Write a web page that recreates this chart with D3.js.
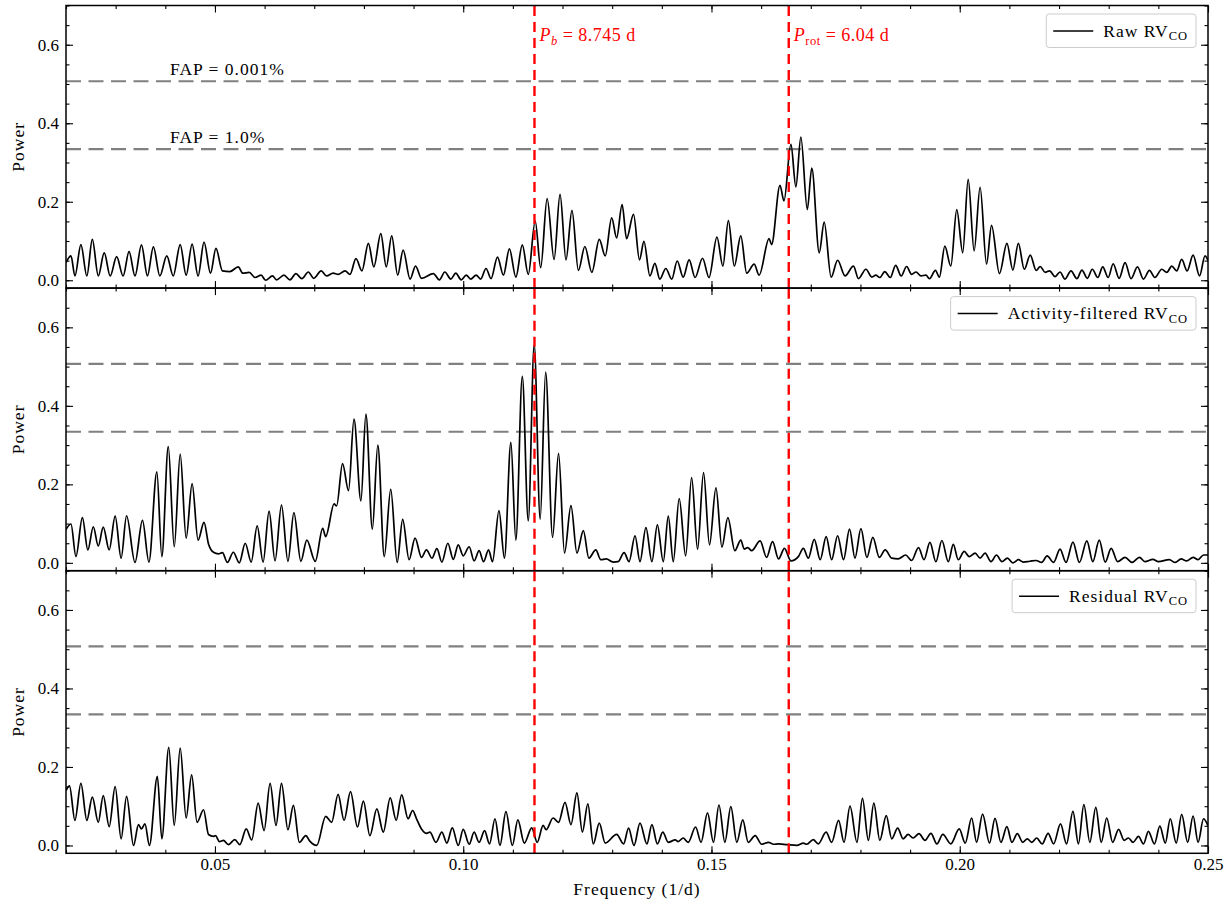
<!DOCTYPE html>
<html>
<head>
<meta charset="utf-8">
<script src="https://cdn.jsdelivr.net/npm/d3@7"></script>
<style>
  body { margin: 0; background: #fff; }
  text { font-family: "Liberation Serif", "DejaVu Serif", serif; }
</style>
</head>
<body>
<svg id="chart" width="1231" height="906"></svg>
<script>
// Generalised Lomb-Scargle periodograms: [frequency (1/d), power]
const rawSeries = [
  [0.0200,0.045],[0.0210,0.062],[0.0218,0.011],[0.0230,0.091],[0.0242,0.011],[0.0253,0.104],
  [0.0265,0.011],[0.0277,0.070],[0.0289,0.011],[0.0302,0.060],[0.0315,0.011],[0.0327,0.073],
  [0.0339,0.011],[0.0352,0.090],[0.0364,0.011],[0.0376,0.085],[0.0389,0.011],[0.0403,0.062],
  [0.0416,0.011],[0.0430,0.091],[0.0442,0.013],[0.0454,0.092],[0.0466,0.011],[0.0478,0.097],
  [0.0491,0.018],[0.0502,0.081],[0.0515,0.024],[0.0530,0.022],[0.0547,0.034],[0.0556,0.018],
  [0.0569,0.020],[0.0581,0.007],[0.0593,0.013],[0.0602,0.000],[0.0616,0.011],[0.0624,0.001],
  [0.0639,0.013],[0.0651,0.001],[0.0663,0.017],[0.0675,0.004],[0.0688,0.021],[0.0699,0.005],
  [0.0714,0.024],[0.0725,0.011],[0.0738,0.018],[0.0748,0.015],[0.0762,0.024],[0.0772,0.015],
  [0.0784,0.055],[0.0796,0.024],[0.0809,0.094],[0.0820,0.034],[0.0834,0.119],[0.0845,0.034],
  [0.0856,0.113],[0.0868,0.013],[0.0879,0.077],[0.0893,0.003],[0.0904,0.036],[0.0916,0.005],
  [0.0940,0.017],[0.0952,0.001],[0.0963,0.021],[0.0975,0.003],[0.0985,0.018],[0.0996,0.001],
  [0.1006,0.013],[0.1015,0.003],[0.1026,0.013],[0.1035,0.003],[0.1046,0.030],[0.1056,0.004],
  [0.1069,0.059],[0.1081,0.013],[0.1093,0.080],[0.1106,0.008],[0.1119,0.090],[0.1131,0.015],
  [0.1145,0.151],[0.1156,0.032],[0.1169,0.208],[0.1183,0.053],[0.1195,0.219],[0.1207,0.052],
  [0.1219,0.178],[0.1232,0.025],[0.1245,0.086],[0.1259,0.020],[0.1274,0.104],[0.1286,0.062],
  [0.1299,0.159],[0.1309,0.108],[0.1320,0.193],[0.1329,0.106],[0.1343,0.168],[0.1355,0.052],
  [0.1364,0.099],[0.1376,0.011],[0.1386,0.043],[0.1396,0.003],[0.1408,0.030],[0.1420,0.003],
  [0.1431,0.049],[0.1443,0.008],[0.1455,0.052],[0.1467,0.007],[0.1482,0.056],[0.1495,0.007],
  [0.1511,0.110],[0.1523,0.036],[0.1534,0.152],[0.1546,0.036],[0.1559,0.113],[0.1571,0.018],
  [0.1586,0.041],[0.1596,0.013],[0.1616,0.106],[0.1621,0.091],[0.1638,0.242],[0.1646,0.202],
  [0.1660,0.346],[0.1670,0.238],[0.1680,0.365],[0.1693,0.180],[0.1702,0.286],[0.1717,0.070],
  [0.1727,0.148],[0.1741,0.008],[0.1754,0.051],[0.1769,0.011],[0.1786,0.036],[0.1796,0.004],
  [0.1811,0.028],[0.1823,0.008],[0.1831,0.013],[0.1839,0.007],[0.1849,0.022],[0.1860,0.007],
  [0.1871,0.038],[0.1882,0.011],[0.1893,0.035],[0.1903,0.015],[0.1912,0.021],[0.1922,0.011],
  [0.1932,0.013],[0.1939,0.004],[0.1951,0.025],[0.1959,0.008],[0.1970,0.087],[0.1982,0.036],
  [0.1994,0.180],[0.2006,0.070],[0.2017,0.257],[0.2029,0.075],[0.2041,0.237],[0.2054,0.041],
  [0.2064,0.140],[0.2080,0.017],[0.2095,0.094],[0.2107,0.026],[0.2118,0.094],[0.2130,0.028],
  [0.2142,0.064],[0.2154,0.025],[0.2162,0.035],[0.2172,0.020],[0.2181,0.024],[0.2192,0.009],
  [0.2202,0.021],[0.2212,0.003],[0.2224,0.024],[0.2236,0.004],[0.2246,0.026],[0.2257,0.005],
  [0.2267,0.028],[0.2278,0.007],[0.2288,0.034],[0.2299,0.007],[0.2309,0.042],[0.2321,0.005],
  [0.2333,0.045],[0.2345,0.004],[0.2358,0.034],[0.2370,0.003],[0.2382,0.025],[0.2393,0.007],
  [0.2407,0.028],[0.2417,0.020],[0.2427,0.036],[0.2437,0.024],[0.2447,0.053],[0.2458,0.024],
  [0.2470,0.064],[0.2483,0.011],[0.2494,0.062],[0.2500,0.050]
];

const filteredSeries = [
  [0.0200,0.085],[0.0210,0.099],[0.0220,0.016],[0.0233,0.115],[0.0244,0.033],[0.0255,0.092],
  [0.0265,0.043],[0.0275,0.091],[0.0287,0.033],[0.0299,0.119],[0.0311,0.012],[0.0322,0.120],
  [0.0339,0.001],[0.0354,0.108],[0.0367,0.002],[0.0383,0.232],[0.0393,0.016],[0.0406,0.296],
  [0.0418,0.041],[0.0430,0.277],[0.0442,0.063],[0.0454,0.202],[0.0466,0.058],[0.0478,0.103],
  [0.0487,0.048],[0.0497,0.027],[0.0507,0.023],[0.0515,0.026],[0.0525,0.001],[0.0537,0.027],
  [0.0549,0.000],[0.0561,0.050],[0.0573,0.002],[0.0585,0.094],[0.0597,0.002],[0.0609,0.132],
  [0.0621,0.005],[0.0634,0.147],[0.0647,0.004],[0.0659,0.128],[0.0673,0.004],[0.0685,0.058],
  [0.0702,0.004],[0.0717,0.088],[0.0723,0.067],[0.0740,0.150],[0.0745,0.145],[0.0757,0.253],
  [0.0769,0.184],[0.0780,0.366],[0.0794,0.158],[0.0804,0.379],[0.0817,0.086],[0.0828,0.300],
  [0.0841,0.016],[0.0854,0.187],[0.0867,0.001],[0.0878,0.111],[0.0891,0.008],[0.0903,0.063],
  [0.0916,0.014],[0.0926,0.033],[0.0937,0.012],[0.0947,0.036],[0.0957,0.002],[0.0969,0.050],
  [0.0980,0.009],[0.0990,0.046],[0.1000,0.018],[0.1012,0.041],[0.1022,0.005],[0.1032,0.031],
  [0.1041,0.003],[0.1051,0.033],[0.1059,0.003],[0.1072,0.133],[0.1083,0.012],[0.1096,0.307],
  [0.1106,0.058],[0.1119,0.475],[0.1131,0.107],[0.1143,0.556],[0.1155,0.111],[0.1166,0.486],
  [0.1180,0.065],[0.1192,0.279],[0.1204,0.025],[0.1217,0.146],[0.1229,0.025],[0.1242,0.082],
  [0.1253,0.012],[0.1267,0.033],[0.1277,0.008],[0.1288,0.010],[0.1302,0.002],[0.1312,0.003],
  [0.1324,0.026],[0.1334,0.003],[0.1346,0.069],[0.1356,0.003],[0.1368,0.090],[0.1380,0.003],
  [0.1391,0.097],[0.1403,0.003],[0.1413,0.119],[0.1423,0.003],[0.1435,0.164],[0.1448,0.018],
  [0.1460,0.217],[0.1472,0.035],[0.1484,0.230],[0.1496,0.046],[0.1509,0.191],[0.1521,0.040],
  [0.1533,0.115],[0.1547,0.031],[0.1559,0.058],[0.1566,0.035],[0.1573,0.039],[0.1581,0.031],
  [0.1598,0.056],[0.1611,0.014],[0.1623,0.054],[0.1635,0.010],[0.1647,0.037],[0.1660,0.005],
  [0.1675,0.016],[0.1685,0.037],[0.1695,0.012],[0.1707,0.060],[0.1719,0.008],[0.1731,0.067],
  [0.1742,0.008],[0.1754,0.069],[0.1766,0.008],[0.1778,0.086],[0.1789,0.012],[0.1801,0.087],
  [0.1813,0.014],[0.1825,0.065],[0.1838,0.014],[0.1850,0.033],[0.1863,0.012],[0.1876,0.010],
  [0.1891,0.020],[0.1903,0.006],[0.1917,0.039],[0.1928,0.008],[0.1940,0.052],[0.1952,0.003],
  [0.1964,0.057],[0.1977,0.003],[0.1987,0.047],[0.1997,0.008],[0.2009,0.029],[0.2019,0.016],
  [0.2031,0.025],[0.2041,0.012],[0.2051,0.025],[0.2063,0.003],[0.2074,0.020],[0.2085,0.003],
  [0.2096,0.012],[0.2107,0.000],[0.2118,0.008],[0.2128,0.002],[0.2141,0.004],[0.2154,0.006],
  [0.2165,0.001],[0.2176,0.018],[0.2189,0.001],[0.2202,0.035],[0.2214,0.001],[0.2228,0.053],
  [0.2241,0.001],[0.2256,0.056],[0.2268,0.003],[0.2281,0.058],[0.2293,0.002],[0.2305,0.037],
  [0.2318,0.003],[0.2333,0.014],[0.2347,0.001],[0.2362,0.014],[0.2373,0.003],[0.2389,0.009],
  [0.2400,0.003],[0.2422,0.008],[0.2434,0.001],[0.2446,0.010],[0.2457,0.005],[0.2470,0.014],
  [0.2480,0.008],[0.2491,0.020],[0.2500,0.020]
];

const residualSeries = [
  [0.0200,0.140],[0.0207,0.152],[0.0218,0.064],[0.0230,0.158],[0.0242,0.064],[0.0253,0.123],
  [0.0265,0.059],[0.0275,0.127],[0.0287,0.048],[0.0299,0.150],[0.0311,0.017],[0.0322,0.125],
  [0.0336,0.000],[0.0346,0.053],[0.0352,0.042],[0.0359,0.055],[0.0368,0.000],[0.0384,0.176],
  [0.0393,0.017],[0.0407,0.250],[0.0418,0.051],[0.0430,0.248],[0.0442,0.070],[0.0453,0.180],
  [0.0464,0.059],[0.0477,0.091],[0.0487,0.028],[0.0497,0.023],[0.0501,0.025],[0.0509,0.010],
  [0.0517,0.013],[0.0527,0.002],[0.0540,0.015],[0.0550,0.002],[0.0563,0.042],[0.0574,0.014],
  [0.0587,0.108],[0.0599,0.038],[0.0611,0.158],[0.0623,0.051],[0.0634,0.158],[0.0647,0.040],
  [0.0658,0.102],[0.0670,0.008],[0.0683,0.025],[0.0691,0.011],[0.0705,0.000],[0.0723,0.074],
  [0.0735,0.059],[0.0748,0.130],[0.0760,0.064],[0.0773,0.137],[0.0787,0.047],[0.0799,0.113],
  [0.0812,0.025],[0.0826,0.093],[0.0839,0.034],[0.0853,0.121],[0.0865,0.064],[0.0876,0.129],
  [0.0889,0.068],[0.0898,0.089],[0.0906,0.068],[0.0916,0.042],[0.0926,0.031],[0.0933,0.034],
  [0.0945,0.008],[0.0957,0.034],[0.0967,0.006],[0.0978,0.045],[0.0990,0.000],[0.1000,0.041],
  [0.1012,0.003],[0.1022,0.034],[0.1032,0.008],[0.1043,0.038],[0.1053,0.004],[0.1064,0.068],
  [0.1074,0.000],[0.1086,0.086],[0.1099,0.000],[0.1110,0.065],[0.1123,0.006],[0.1138,0.045],
  [0.1149,0.008],[0.1161,0.051],[0.1167,0.040],[0.1181,0.070],[0.1192,0.059],[0.1205,0.110],
  [0.1217,0.053],[0.1229,0.134],[0.1240,0.034],[0.1251,0.106],[0.1262,0.004],[0.1274,0.057],
  [0.1286,0.006],[0.1309,0.028],[0.1323,0.004],[0.1333,0.044],[0.1344,0.000],[0.1356,0.057],
  [0.1370,0.004],[0.1380,0.053],[0.1391,0.004],[0.1402,0.034],[0.1413,0.008],[0.1427,0.014],
  [0.1433,0.010],[0.1443,0.019],[0.1453,0.008],[0.1468,0.047],[0.1479,0.008],[0.1492,0.083],
  [0.1504,0.008],[0.1515,0.103],[0.1527,0.008],[0.1539,0.099],[0.1551,0.008],[0.1563,0.065],
  [0.1574,0.008],[0.1588,0.025],[0.1601,0.003],[0.1615,0.008],[0.1625,0.003],[0.1635,0.004],
  [0.1652,0.002],[0.1672,0.000],[0.1685,0.006],[0.1692,0.003],[0.1705,0.015],[0.1715,0.004],
  [0.1731,0.034],[0.1742,0.008],[0.1756,0.064],[0.1767,0.008],[0.1779,0.100],[0.1793,0.008],
  [0.1804,0.120],[0.1816,0.013],[0.1827,0.108],[0.1839,0.013],[0.1852,0.076],[0.1863,0.017],
  [0.1875,0.044],[0.1886,0.017],[0.1896,0.028],[0.1906,0.019],[0.1918,0.030],[0.1930,0.013],
  [0.1942,0.031],[0.1954,0.004],[0.1966,0.028],[0.1982,0.004],[0.1999,0.042],[0.2011,0.006],
  [0.2024,0.070],[0.2034,0.008],[0.2046,0.080],[0.2060,0.006],[0.2071,0.069],[0.2083,0.008],
  [0.2095,0.048],[0.2105,0.008],[0.2116,0.030],[0.2127,0.008],[0.2136,0.017],[0.2145,0.008],
  [0.2155,0.019],[0.2166,0.004],[0.2178,0.031],[0.2189,0.004],[0.2203,0.055],[0.2215,0.004],
  [0.2228,0.087],[0.2239,0.004],[0.2250,0.104],[0.2262,0.008],[0.2274,0.097],[0.2285,0.008],
  [0.2296,0.070],[0.2308,0.008],[0.2320,0.041],[0.2331,0.013],[0.2340,0.019],[0.2349,0.008],
  [0.2360,0.023],[0.2370,0.004],[0.2380,0.036],[0.2392,0.004],[0.2403,0.049],[0.2414,0.006],
  [0.2424,0.068],[0.2436,0.006],[0.2447,0.079],[0.2459,0.008],[0.2470,0.075],[0.2480,0.008],
  [0.2491,0.068],[0.2500,0.050]
];

const seriesNames = ["Raw RV", "Activity-filtered RV", "Residual RV"];
const seriesSubscript = "CO";

// False-alarm-probability power levels and their labels
const fapLevels = [0.507, 0.334];
const fapLabels = ["FAP = 0.001%", "FAP = 1.0%"];

// Marked periods (days)
const markedPeriods = [8.745, 6.04];
const markedSymbols = ["b", "rot"];
const markedValueText = ["8.745 d", "6.04 d"];

const xDomain = [0.02, 0.25];
const yDomain = [-0.02, 0.70];
const xMajorTicks = [0.05, 0.10, 0.15, 0.20, 0.25];
const yMajorTicks = [0.0, 0.2, 0.4, 0.6];

// ---- layout ----
const svg = d3.select("#chart");
const left = 66, right = 1208, top0 = 5.5, panelH = 282.6;
const x = d3.scaleLinear().domain(xDomain).range([left, right]);
const xMinor = x.ticks(23);
const curve = d3.curveMonotoneX;
const panels = [rawSeries, filteredSeries, residualSeries];
const labelFont = 17.5, labelSpacing = 1;

svg.append("defs").append("clipPath").attr("id", "plotclip")
  .append("rect").attr("x", left).attr("y", top0)
  .attr("width", right - left).attr("height", panelH * 3);

panels.forEach((series, i) => {
  const top = top0 + i * panelH, bottom = top + panelH;
  const y = d3.scaleLinear().domain(yDomain).range([bottom, top]);
  const yMinor = y.ticks(14);
  const g = svg.append("g");

  // FAP levels
  fapLevels.forEach(level => {
    g.append("line")
      .attr("x1", left).attr("x2", right)
      .attr("y1", y(level)).attr("y2", y(level))
      .attr("stroke", "#808080").attr("stroke-width", 2.2)
      .attr("stroke-dasharray", "15,7.5");
  });

  // periodogram
  g.append("path")
    .datum(series)
    .attr("clip-path", "url(#plotclip)")
    .attr("fill", "none").attr("stroke", "#000").attr("stroke-width", 1.7)
    .attr("stroke-linejoin", "round")
    .attr("d", d3.line().x(d => x(d[0])).y(d => y(d[1])).curve(curve));

  // marked periods
  markedPeriods.forEach(p => {
    g.append("line")
      .attr("x1", x(1 / p)).attr("x2", x(1 / p))
      .attr("y1", bottom).attr("y2", top)
      .attr("stroke", "#ff0000").attr("stroke-width", 2.4)
      .attr("stroke-dasharray", "10,6");
  });

  // axes with inward ticks on all four sides
  const addAxis = (axis, tx, ty, labels) => {
    const a = g.append("g").attr("transform", `translate(${tx},${ty})`).call(axis);
    a.select(".domain").remove();
    a.selectAll(".tick line").attr("stroke", "#000").attr("stroke-width", 1.1);
    a.selectAll("text")
      .style("font-family", '"Liberation Serif", "DejaVu Serif", serif')
      .attr("font-size", 17).attr("fill", "#000");
    if (!labels) a.selectAll("text").remove();
    return a;
  };
  const isLast = i === panels.length - 1;
  addAxis(d3.axisBottom(x).tickValues(xMajorTicks).tickSize(-7).tickPadding(5).tickFormat(d3.format(".2f")), 0, bottom, isLast);
  addAxis(d3.axisBottom(x).tickValues(xMinor).tickSize(-3.5).tickFormat(""), 0, bottom, false);
  addAxis(d3.axisTop(x).tickValues(xMajorTicks).tickSize(-7), 0, top, false);
  addAxis(d3.axisTop(x).tickValues(xMinor).tickSize(-3.5), 0, top, false);
  addAxis(d3.axisLeft(y).tickValues(yMajorTicks).tickSize(-7).tickPadding(7).tickFormat(d3.format(".1f")), left, 0, true);
  addAxis(d3.axisLeft(y).tickValues(yMinor).tickSize(-3.5).tickFormat(""), left, 0, false);
  addAxis(d3.axisRight(y).tickValues(yMajorTicks).tickSize(-7), right, 0, false);
  addAxis(d3.axisRight(y).tickValues(yMinor).tickSize(-3.5), right, 0, false);

  // frame
  g.append("rect")
    .attr("x", left).attr("y", top).attr("width", right - left).attr("height", panelH)
    .attr("fill", "none").attr("stroke", "#000").attr("stroke-width", 1.5);

  // y label
  g.append("text")
    .attr("transform", `translate(24,${(top + bottom) / 2}) rotate(-90)`)
    .attr("text-anchor", "middle").attr("font-size", labelFont)
    .attr("letter-spacing", labelSpacing).text("Power");

  // legend
  const lg = g.append("g");
  const box = lg.append("rect").attr("fill", "#fff").attr("stroke", "#cccccc")
    .attr("stroke-width", 1).attr("rx", 3);
  const label = lg.append("text").attr("font-size", labelFont)
    .attr("letter-spacing", labelSpacing).attr("y", top + 31);
  label.append("tspan").text(seriesNames[i]);
  label.append("tspan").attr("font-size", 12.5).attr("dy", 3.5).text(seriesSubscript);
  const tw = label.node().getComputedTextLength();
  const boxRight = 1196, boxW = tw + 65;
  const bx = boxRight - boxW;
  box.attr("x", bx).attr("y", top + 8.5).attr("width", boxW).attr("height", 33.5);
  label.attr("x", bx + 57);
  lg.append("line").attr("x1", bx + 7).attr("x2", bx + 47)
    .attr("y1", top + 25.5).attr("y2", top + 25.5)
    .attr("stroke", "#000").attr("stroke-width", 1.5);

  // annotations in the top panel
  if (i === 0) {
    fapLevels.forEach((level, k) => {
      g.append("text").attr("x", 170).attr("y", y(level) - 6)
        .attr("font-size", labelFont).attr("letter-spacing", labelSpacing)
        .attr("xml:space", "preserve").text(fapLabels[k]);
    });
    markedPeriods.forEach((p, k) => {
      const t = g.append("text").attr("x", x(1 / p) + 5).attr("y", top + 35)
        .attr("font-size", 18).attr("letter-spacing", 0.5).attr("fill", "#ff0000");
      t.append("tspan").attr("font-style", "italic").text("P");
      t.append("tspan").attr("font-style", markedSymbols[k] === "b" ? "italic" : "normal")
        .attr("font-size", 12.5).attr("dy", 4).text(markedSymbols[k]);
      t.append("tspan").attr("dy", -4).text(" = " + markedValueText[k]);
    });
  }
});

// x label
svg.append("text")
  .attr("x", (left + right) / 2).attr("y", 895)
  .attr("text-anchor", "middle").attr("font-size", labelFont)
  .attr("letter-spacing", labelSpacing).text("Frequency (1/d)");
</script>
</body>
</html>
